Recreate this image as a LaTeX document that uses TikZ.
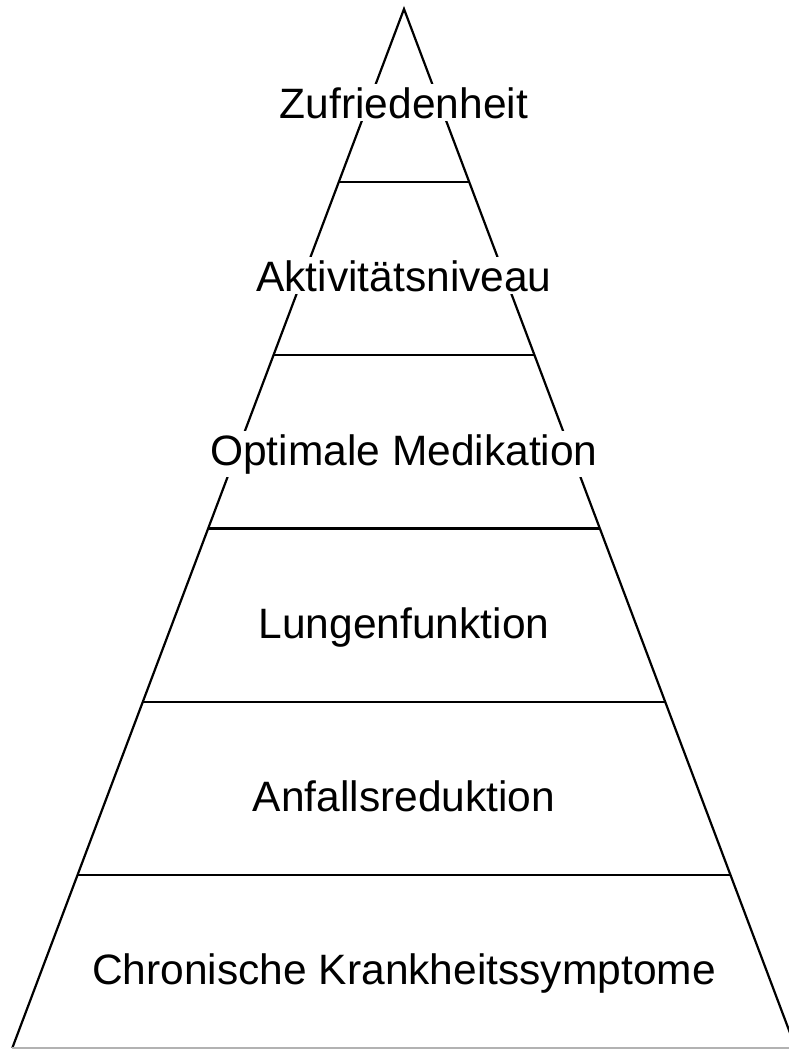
\documentclass[tikz,border=0pt]{standalone}
\usepackage{fontspec}
\setmainfont{Liberation Sans}
\usetikzlibrary{calc}
\begin{document}
\begin{tikzpicture}[x=1pt,y=-1pt,
  edge/.style={line width=2.2pt, line join=miter},
  lvltext/.style={font=\fontsize{42.5}{50}\selectfont, anchor=base, inner sep=3pt, fill=white, draw=none}]
\useasboundingbox (0,0) rectangle (789,1049);
\clip (0,0) rectangle (789,1049);
\coordinate (apex) at (404,9);
\coordinate (bl) at (12.3,1048);
\coordinate (br) at (795.7,1048);
\draw[edge] (bl) -- (apex) -- (br);
\draw[line width=2pt, gray!60] (bl) -- (br);
\foreach \i in {1,...,5}{
  \draw[edge] ($(apex)!{\i/6}!(bl)$) coordinate (l\i) -- ($(apex)!{\i/6}!(br)$) coordinate (r\i);
}
\node[lvltext] (n1) at (404,118) {Zufriedenheit};
\node[lvltext] (n2) at (404,291) {Aktivitätsniveau};
\node[lvltext] (n3) at (404,465) {Optimale Medikation};
\node[lvltext] (n4) at (404,638) {Lungenfunktion};
\node[lvltext] (n5) at (404,811) {Anfallsreduktion};
\node[lvltext] (n6) at (404,984) {Chronische Krankheitssymptome};
\end{tikzpicture}
\end{document}
